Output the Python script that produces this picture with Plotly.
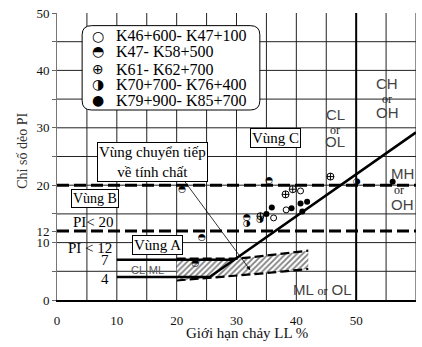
import plotly.graph_objects as go

# ---------------- data ----------------
X_TICKS = [0, 10, 20, 30, 40, 50, 60]
Y_TICK_POS = [0, 5, 10, 12, 15, 20, 25, 30, 35, 40, 45, 50]
Y_TICK_TEXT = ["0", "", "10", "12", "", "20", "", "30", "", "40", "", "50"]
GRID_X = [5, 10, 15, 20, 25, 30, 35, 40, 45, 55, 60]
GRID_Y = [5, 10, 15, 20, 25, 30, 35, 40, 45]

LEGEND_NAMES = ["K46+600- K47+100", "K47- K58+500", "K61- K62+700",
                "K70+700- K76+400", "K79+900- K85+700"]

LL_OPEN = [36.2, 38.3, 40.7]
PI_OPEN = [14.3, 15.7, 19.0]
LL_HALF_TOP = [20.9, 35.4, 24.2, 31.7, 23.1]
PI_HALF_TOP = [19.2, 20.8, 10.9, 14.4, 6.4]
LL_CROSS = [38.2, 39.4, 45.7, 34.0]
PI_CROSS = [18.4, 19.3, 21.5, 14.6]
LL_HALF_RIGHT = [33.9, 31.7, 50.1]
PI_HALF_RIGHT = [13.9, 13.3, 20.6]
LL_FILLED = [35.9, 35.0, 39.2, 40.7, 41.8, 41.0, 56.1]
PI_FILLED = [16.1, 15.0, 16.0, 16.8, 17.1, 15.4, 20.6]

A_LINE_LL = [10, 25.5, 60]
A_LINE_PI = [4, 4, 29.2]
PI7_LL = [10, 29.6]
PI7_PI = [7, 7]
U_LINE_LL = [50, 50]
U_LINE_PI = [0, 50]
PI20_LL = [0, 60]
PI20 = [20, 20]
PI12_LL = [0, 60]
PI12 = [12, 12]
HATCH_UP_LL = [20, 30, 33, 36, 39, 42]
HATCH_UP_PI = [7.2, 7.2, 7.5, 7.9, 8.3, 8.6]
HATCH_LO_LL = [20, 25, 30, 34, 38, 42]
HATCH_LO_PI = [3.4, 3.8, 4.2, 4.6, 5.0, 5.4]

SERIF = "Liberation Serif"
SANS = "Liberation Sans"
GLYPH = "DejaVu Sans"

fig = go.Figure()

# grid lines
for gx in GRID_X:
    fig.add_shape(type="line", x0=gx, x1=gx, y0=0, y1=50, xref="x", yref="y",
                  line=dict(color="#222", width=1), layer="below")
for gy in GRID_Y:
    fig.add_shape(type="line", x0=0, x1=60, y0=gy, y1=gy, xref="x", yref="y",
                  line=dict(color="#222", width=1), layer="below")

# hatched zone
fig.add_trace(go.Scatter(
    x=HATCH_UP_LL + HATCH_LO_LL[::-1], y=HATCH_UP_PI + HATCH_LO_PI[::-1],
    mode="lines", fill="toself", line=dict(width=0), fillcolor="white",
    fillpattern=dict(shape="/", fgcolor="black", bgcolor="white", size=4, solidity=0.45),
    hoverinfo="skip", showlegend=False))
for xs, ys in [(HATCH_UP_LL, HATCH_UP_PI), (HATCH_LO_LL, HATCH_LO_PI)]:
    fig.add_trace(go.Scatter(x=xs, y=ys, mode="lines",
                             line=dict(color="black", width=2.2, dash="9px,4px"),
                             hoverinfo="skip", showlegend=False))

# reference lines
def line(xs, ys, width=2.5, dash=None):
    fig.add_trace(go.Scatter(x=xs, y=ys, mode="lines",
                             line=dict(color="black", width=width, dash=dash),
                             hoverinfo="skip", showlegend=False))

line(PI20_LL, PI20, 3, "12px,5px")
line(PI12_LL, PI12, 3, "12px,5px")
line(A_LINE_LL, A_LINE_PI, 2.5)
line(PI7_LL, PI7_PI, 2.5)
line(U_LINE_LL, U_LINE_PI, 2)

# data points
fig.add_trace(go.Scatter(x=LL_OPEN, y=PI_OPEN, mode="markers", name=LEGEND_NAMES[0],
                         marker=dict(symbol="circle", size=6, color="white",
                                     line=dict(color="black", width=1)), showlegend=False))
fig.add_trace(go.Scatter(x=LL_HALF_TOP, y=PI_HALF_TOP, mode="text", name=LEGEND_NAMES[1],
                         text=["◓"] * len(LL_HALF_TOP), textposition="middle center",
                         textfont=dict(family=GLYPH, size=9, color="black"), showlegend=False))
fig.add_trace(go.Scatter(x=LL_CROSS, y=PI_CROSS, mode="markers", name=LEGEND_NAMES[2],
                         marker=dict(symbol="circle-cross-open", size=7, color="black",
                                     line=dict(color="black", width=1)), showlegend=False))
fig.add_trace(go.Scatter(x=LL_HALF_RIGHT, y=PI_HALF_RIGHT, mode="text", name=LEGEND_NAMES[3],
                         text=["◑"] * len(LL_HALF_RIGHT), textposition="middle center",
                         textfont=dict(family=GLYPH, size=9, color="black"), showlegend=False))
fig.add_trace(go.Scatter(x=LL_FILLED, y=PI_FILLED, mode="markers", name=LEGEND_NAMES[4],
                         marker=dict(symbol="circle", size=6, color="black"), showlegend=False))

# legend box (rounded)
x0, x1, y0, y1, rx, ry = 4.2, 33.9, 33.1, 47.8, 1.6, 1.6
path = (f"M {x0+rx},{y1} L {x1-rx},{y1} Q {x1},{y1} {x1},{y1-ry} L {x1},{y0+ry} "
        f"Q {x1},{y0} {x1-rx},{y0} L {x0+rx},{y0} Q {x0},{y0} {x0},{y0+ry} "
        f"L {x0},{y1-ry} Q {x0},{y1} {x0+rx},{y1} Z")
fig.add_shape(type="path", path=path, xref="x", yref="y",
              line=dict(color="black", width=1), fillcolor="white", layer="above")

ann = []
legend_glyphs = ["○", "◓", "⊕", "◑", "●"]
legend_y = [46.0, 43.3, 40.2, 37.6, 34.8]
for g, yy, nm in zip(legend_glyphs, legend_y, LEGEND_NAMES):
    ann.append(dict(x=6.9, y=yy, text=g, showarrow=False, xanchor="center", yanchor="middle",
                    font=dict(family=GLYPH, size=14, color="black")))
    ann.append(dict(x=9.6, y=yy, text=nm, showarrow=False, xanchor="left", yanchor="middle",
                    font=dict(family=SERIF, size=16, color="black")))

def box(x, y, text, size=15):
    ann.append(dict(x=x, y=y, text=text, showarrow=False, xanchor="center", yanchor="middle",
                    font=dict(family=SERIF, size=size, color="black"),
                    bgcolor="white", bordercolor="black", borderwidth=1, borderpad=1))

box(16.0, 24.1, "Vùng chuyển tiếp<br>về tính chất", 15)
box(36.6, 28.3, "Vùng C", 15)
box(6.3, 17.6, "Vùng B", 14)
box(16.8, 9.5, "Vùng A", 15)

def txt(x, y, text, size=15, family=SERIF, color="black", xanchor="center"):
    ann.append(dict(x=x, y=y, text=text, showarrow=False, xanchor=xanchor, yanchor="middle",
                    font=dict(family=family, size=size, color=color)))

txt(6.1, 13.6, "PI< 20", 15)
txt(5.5, 9.0, "PI < 12", 15)
txt(9.0, 6.9, "7", 15, xanchor="right")
txt(9.0, 3.6, "4", 15, xanchor="right")
txt(15.1, 5.2, "CL-ML", 11, SANS, "#555")
txt(46.5, 32.4, "CL", 15, SANS, "#444")
txt(46.5, 29.7, "or", 12, SERIF, "#222")
txt(46.5, 27.6, "OL", 15, SANS, "#444")
txt(55.2, 37.8, "CH", 15, SANS, "#444")
txt(55.2, 35.0, "or", 12, SERIF, "#222")
txt(55.2, 32.6, "OH", 15, SANS, "#444")
txt(57.7, 22.1, "MH", 15, SANS, "#444")
txt(57.2, 19.1, "or", 12, SERIF, "#222")
txt(57.7, 16.6, "OH", 15, SANS, "#444")
ann.append(dict(x=44.3, y=1.9, showarrow=False, xanchor="center", yanchor="middle",
                text="ML <span style='font-family:Liberation Serif;font-size:12px;color:#222'>or</span> OL",
                font=dict(family=SANS, size=15, color="#444")))

# arrow from transition box
ann.append(dict(x=32.3, y=5.2, ax=21.1, ay=21.0, xref="x", yref="y", axref="x", ayref="y",
                text="", showarrow=True, arrowhead=2, arrowsize=1, arrowwidth=0.8,
                arrowcolor="black"))

# axis titles
ann.append(dict(x=0.53, y=-0.0, xref="paper", yref="paper", yshift=-33,
                text="Giới hạn chảy LL %", showarrow=False, xanchor="center", yanchor="middle",
                font=dict(family=SERIF, size=15, color="#111")))
ann.append(dict(x=0, y=0.52, xref="paper", yref="paper", xshift=-34,
                text="Chỉ số dẻo PI", showarrow=False, textangle=-90,
                xanchor="center", yanchor="middle",
                font=dict(family=SERIF, size=14, color="#333")))

fig.update_layout(
    width=422, height=347,
    margin=dict(l=57, r=6, t=10, b=47),
    paper_bgcolor="white", plot_bgcolor="white",
    annotations=ann, showlegend=False,
    xaxis=dict(range=[0, 60], tickvals=X_TICKS, showgrid=False, zeroline=False,
               showline=True, linecolor="black", linewidth=2,
               ticks="outside", ticklen=7, tickcolor="rgba(0,0,0,0)",
               tickfont=dict(family=SERIF, size=13, color="#111")),
    yaxis=dict(range=[0, 50], tickvals=Y_TICK_POS, ticktext=Y_TICK_TEXT,
               showgrid=False, zeroline=False, showline=True, linecolor="#777", linewidth=1,
               ticks="outside", ticklen=4, tickcolor="#666",
               tickfont=dict(family=SERIF, size=13, color="#111")),
)

fig.write_html("out.html", config={"displayModeBar": False},
               post_script="document.body.style.margin='0px';")
